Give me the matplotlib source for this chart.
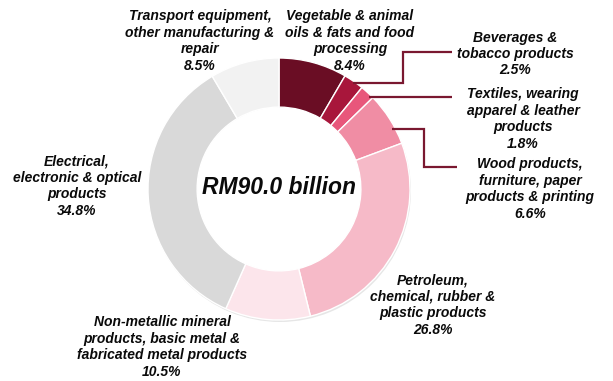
import numpy as np
import matplotlib
matplotlib.use("Agg")
import matplotlib.pyplot as plt

# Manufacturing sales by sub-sector (share of RM90.0 billion)
categories = [
    "Vegetable & animal\noils & fats and food\nprocessing",
    "Beverages &\ntobacco products",
    "Textiles, wearing\napparel & leather\nproducts",
    "Wood products,\nfurniture, paper\nproducts & printing",
    "Petroleum,\nchemical, rubber &\nplastic products",
    "Non-metallic mineral\nproducts, basic metal &\nfabricated metal products",
    "Electrical,\nelectronic & optical\nproducts",
    "Transport equipment,\nother manufacturing &\nrepair",
]
shares = [8.4, 2.5, 1.8, 6.6, 26.8, 10.5, 34.8, 8.5]
colors = ["#6A0D24", "#A8163B", "#E8577B", "#F08DA4", "#F6BAC8",
          "#FCE5EB", "#D9D9D9", "#F2F2F2"]
total_label = "RM90.0 billion"

W, H = 613, 381
fig = plt.figure(figsize=(W / 100, H / 100), dpi=100)
ax = fig.add_axes([0, 0, 1, 1])
ax.set_xlim(0, W)
ax.set_ylim(0, H)
ax.axis("off")

def py(y):
    # pixel row (top-down) to axes y
    return H - y

cx, cy, R = 279, py(189), 131
ring = 0.375

# soft drop shadow under the ring
ax.pie([1], radius=R, center=(cx + 1.0, cy - 2.0), colors=["#C8C8C8"],
       wedgeprops=dict(width=R * ring - 2, linewidth=0, alpha=0.45))
wedges, _ = ax.pie(shares, radius=R, center=(cx, cy), colors=colors,
                   startangle=90, counterclock=False,
                   wedgeprops=dict(width=R * ring, edgecolor="white", linewidth=1.0))
ax.set_xlim(0, W)
ax.set_ylim(0, H)
ax.set_aspect("equal")

font = dict(family=["Liberation Sans", "DejaVu Sans"], fontweight="bold",
            fontstyle="italic", color="#0A0A0A")

ax.text(cx, cy + 2, total_label, ha="center", va="center", fontsize=16.5, **font)

# label centres (x, top-down y) for each sub-sector
label_pos = [(350, 41), (515, 54), (523, 119), (530, 189),
             (433, 305), (162, 347), (77, 186), (200, 41)]
for name, val, (lx, ly) in zip(categories, shares, label_pos):
    ax.text(lx, py(ly), f"{name}\n{val}%", ha="center", va="center",
            fontsize=10, linespacing=1.22, **font)

# elbow leader lines for the thin wedges on the right
line_color = "#7A1830"
def edge_x(y_top):
    dy = cy - py(y_top)
    return cx + np.sqrt(R ** 2 - dy ** 2) - 3

leaders = {
    1: [(83, 403), (52, 452)],
    2: [(97, 452)],
    3: [(129, 424), (167, 457)],
}
for idx, segs in leaders.items():
    y0 = segs[0][0]
    xs = [edge_x(y0)]
    ys = [py(y0)]
    for i, (yy, xx) in enumerate(segs):
        if i == 0:
            xs.append(xx); ys.append(py(yy))
        else:
            xs.append(xs[-1]); ys.append(py(yy))
            xs.append(xx); ys.append(py(yy))
    ax.plot(xs, ys, color=line_color, linewidth=1.6, solid_capstyle="butt",
            solid_joinstyle="miter")

fig.savefig("out.png", dpi=100, facecolor="white")
